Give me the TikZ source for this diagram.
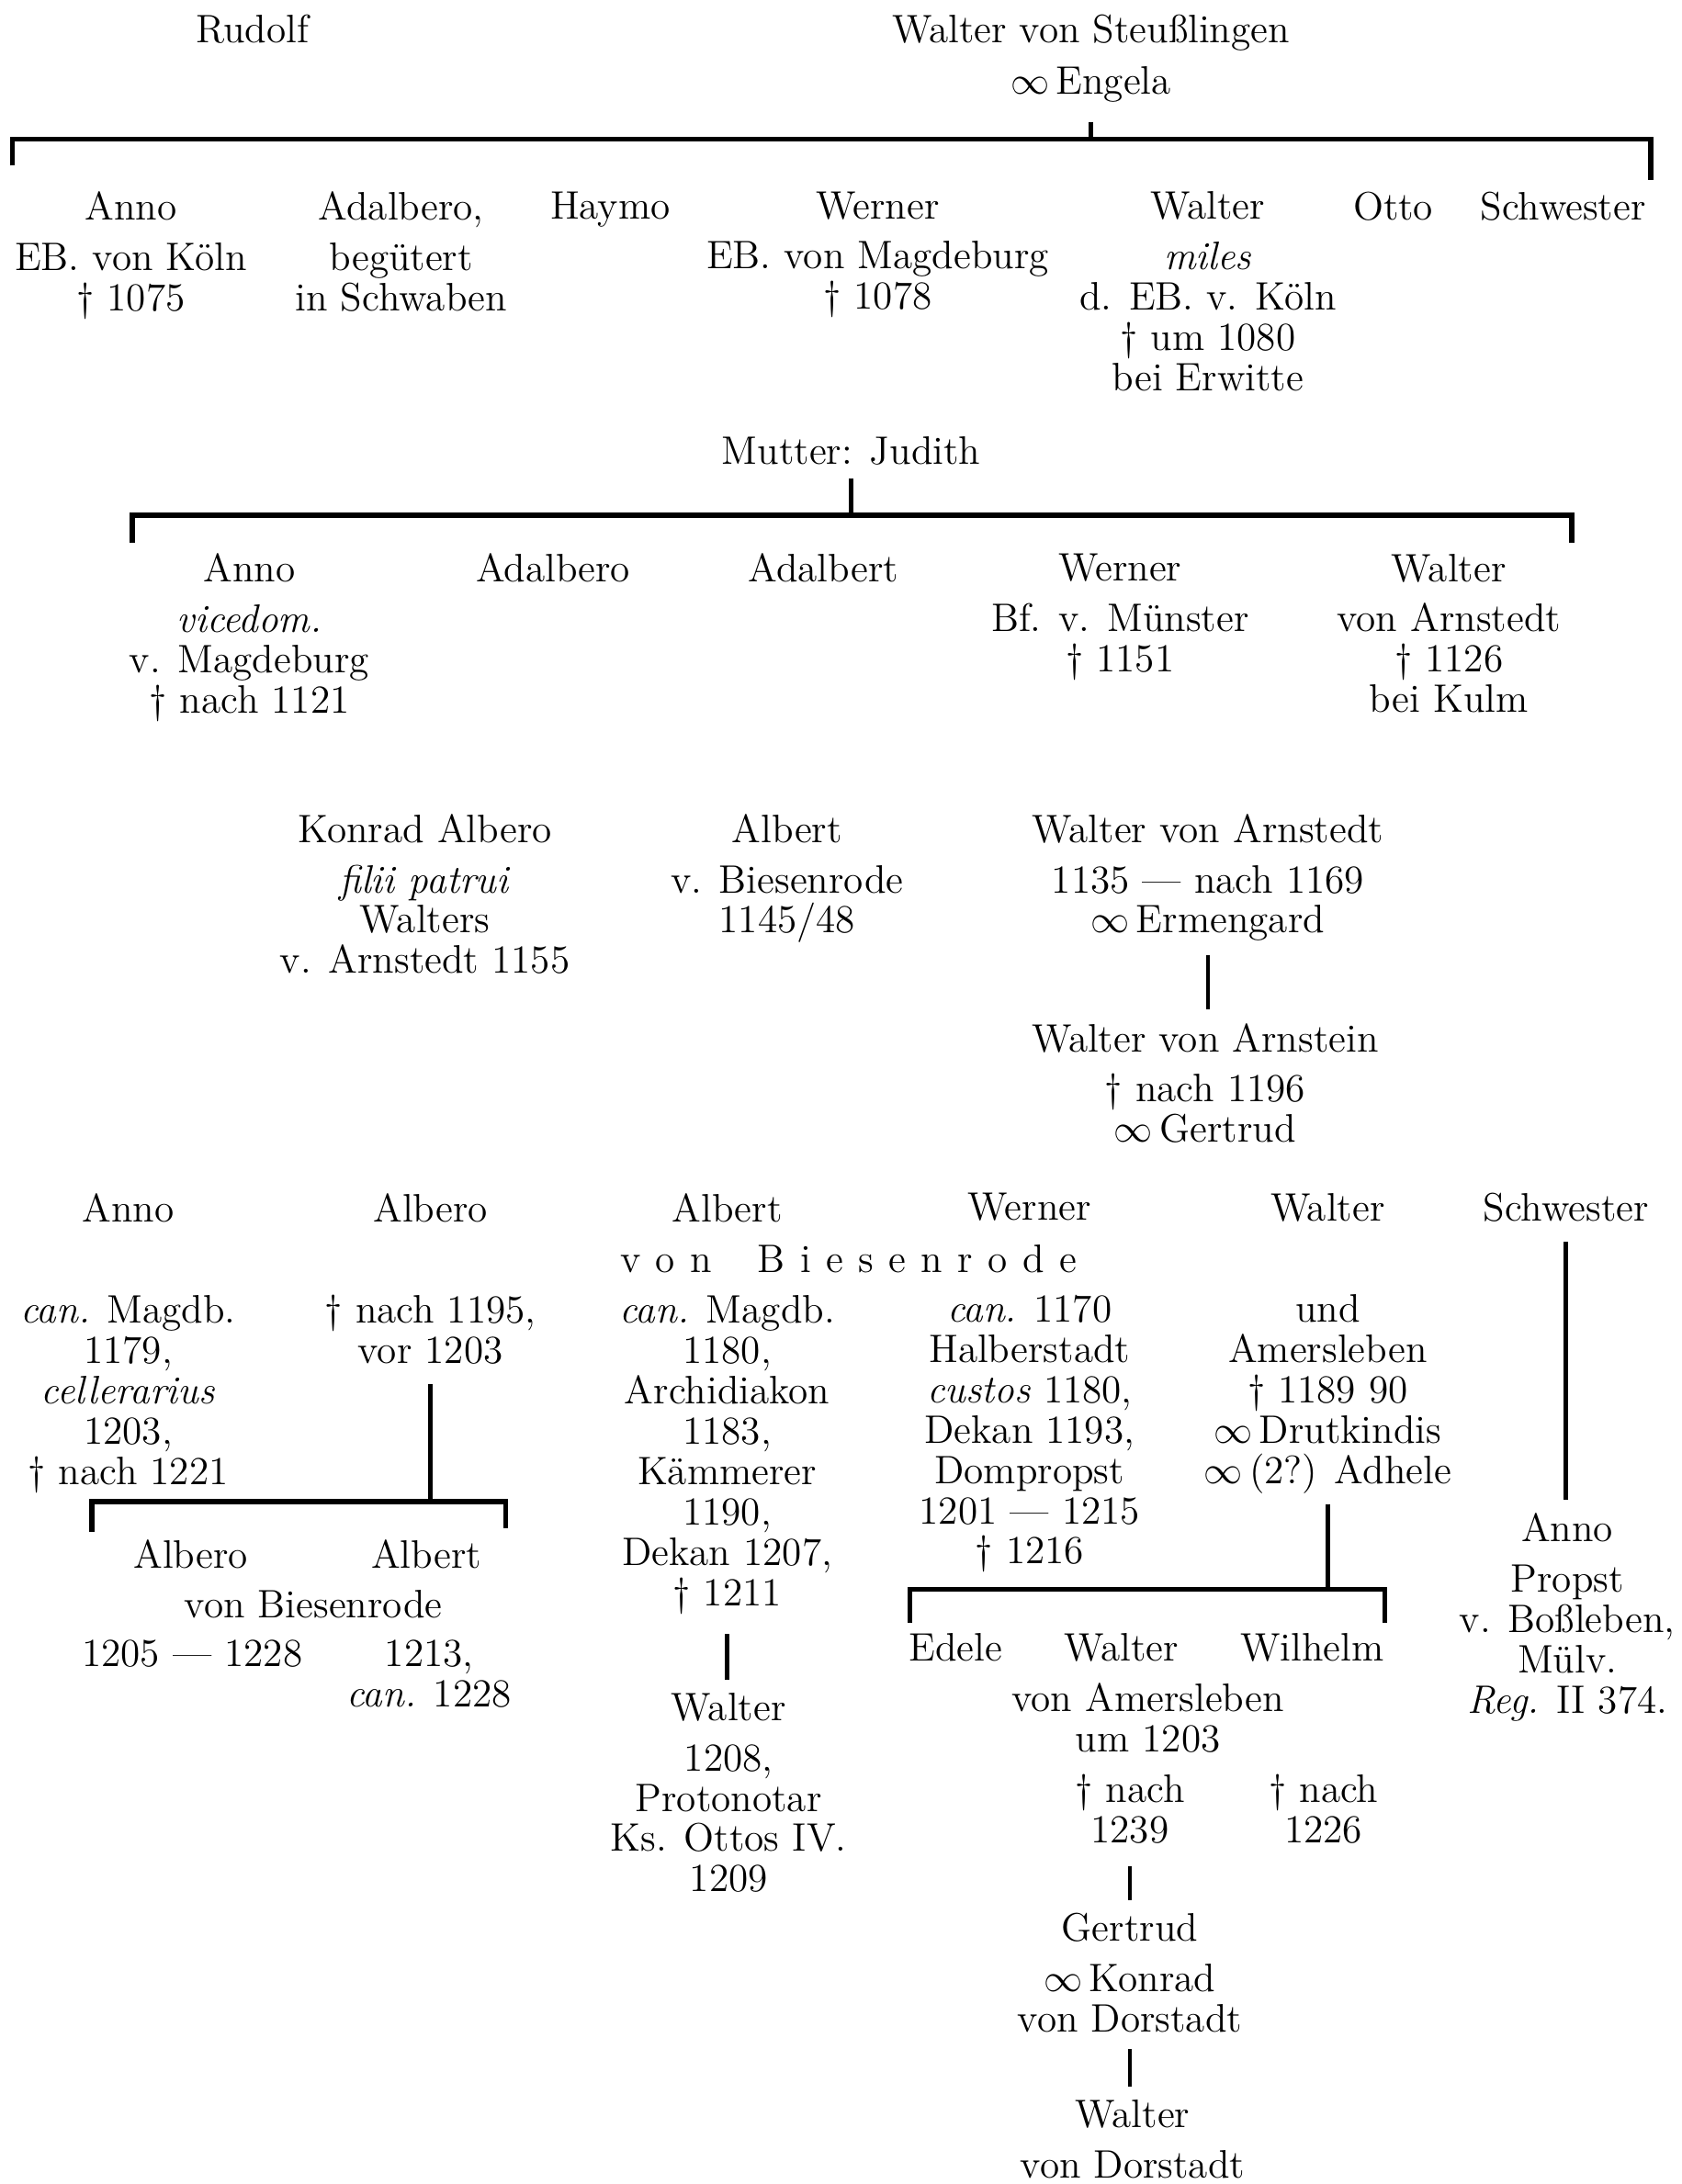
\documentclass[tikz,border=0pt]{standalone}
\usepackage{tikz}
\usetikzlibrary{positioning, calc}
\tikzset{
    person/.style={
        align=center, anchor=north, inner sep=0pt, yshift=8.54pt
    },
    stem/.style={
        line width=1.3pt, shorten <=4pt
    },
    bar/.style={
        line width=1.6pt
    }
}
\newcommand{\kreuz}{\textdagger\ }
\newcommand{\ehe}{$\infty$\,}
\newcommand{\ls}{\hspace{0.38em}}
\begin{document}
\begin{tikzpicture}[x=0.1517mm, y=-0.1517mm, font=\fontsize{12.3}{12.5}\selectfont]
\useasboundingbox (0,0) rectangle (1207,1568);

\node[person] (rudolf) at (181,30) {Rudolf};
\node[person] (steuss) at (783,30) {Walter von Steußlingen\\[3.5pt]\ehe Engela};

\coordinate (gen1l) at (9,100);
\coordinate (gen1r) at (1185,100);
\draw[bar] (gen1l) ++(0,19) -- (gen1l) -- (gen1r) -- ++(0,29);
\draw[stem, shorten <=6pt] (steuss.south) -- (steuss.south |- gen1l);

\node[person] (anno1) at (94,157) {Anno\\[3pt]EB. von Köln\\\kreuz 1075};
\node[person] (adalbero1) at (288,157) {Adalbero,\\[3pt]begütert\\in Schwaben};
\node[person] (haymo) at (438,157) {Haymo};
\node[person] (werner1) at (630,157) {Werner\\[3pt]EB. von Magdeburg\\\kreuz 1078};
\node[person] (walter1) at (867,157) {Walter\\[3pt]\textit{miles}\\d. EB. v. Köln\\\kreuz um 1080\\bei Erwitte};
\node[person] (otto) at (1000,157) {Otto};
\node[person] (schwester1) at (1122,157) {Schwester};

\node[person] (judith) at (611,333) {Mutter: Judith};
\coordinate (gen2l) at (95,370);
\coordinate (gen2r) at (1128,370);
\draw[bar] (gen2l) ++(0,20) -- (gen2l) -- (gen2r) -- ++(0,20);
\draw[stem] (judith.south) -- (judith.south |- gen2l);

\node[person] (anno2) at (179,417) {Anno\\[3pt]\textit{vicedom.}\\v. Magdeburg\\\kreuz nach 1121};
\node[person] (adalbero2) at (397,417) {Adalbero};
\node[person] (adalbert) at (591,417) {Adalbert};
\node[person] (werner2) at (804,417) {Werner\\[3pt]Bf. v. Münster\\\kreuz 1151};
\node[person] (walter2) at (1040,417) {Walter\\[3pt]von Arnstedt\\\kreuz 1126\\bei Kulm};

\node[person] (konrad) at (305,604) {Konrad Albero\\[3pt]\textit{filii patrui}\\Walters\\v. Arnstedt 1155};
\node[person] (albert3) at (565,604) {Albert\\[3pt]v. Biesenrode\\1145/48};
\node[person] (walter3) at (867,604) {Walter von Arnstedt\\[3pt]1135 --- nach 1169\\\ehe Ermengard};
\node[person] (arnstein) at (865,754) {Walter von Arnstein\\[3pt]\kreuz nach 1196\\\ehe Gertrud};
\draw[stem, shorten >=4pt] (walter3.south) -- (walter3.south |- arnstein.north);

\node[person] (anno4) at (92,876) {Anno\\[19pt]\textit{can.} Magdb.\\1179,\\\textit{cellerarius}\\1203,\\\kreuz nach 1221};
\node[person] (albero4) at (309,876) {Albero\\[19pt]\kreuz nach 1195,\\vor 1203};
\node[person] (albert4) at (522,876) {Albert\\[19pt]\textit{can.} Magdb.\\1180,\\Archidiakon\\1183,\\Kämmerer\\1190,\\Dekan 1207,\\\kreuz 1211};
\node[person] (sperr) at (609,913) {v\ls o\ls n\hspace{1.15em}B\ls i\ls e\ls s\ls e\ls n\ls r\ls o\ls d\ls e};
\node[person] (werner4) at (739,876) {Werner\\[19pt]\textit{can.} 1170\\Halberstadt\\\textit{custos} 1180,\\Dekan 1193,\\Dompropst\\1201 --- 1215\\\kreuz 1216};
\node[person] (walter4) at (953,876) {Walter\\[19pt]und\\Amersleben\\\kreuz 1189 90\\\ehe Drutkindis\\\ehe (2?) Adhele};
\node[person] (schwester4) at (1124,876) {Schwester};

\coordinate (albl) at (66,1078);
\coordinate (albr) at (363,1078);
\draw[bar] (albl) ++(0,22) -- (albl) -- (albr) -- ++(0,19);
\draw[stem, shorten <=6pt] (albero4.south) -- (albero4.south |- albl);

\node[person] (albero5) at (137,1125) {Albero};
\node[person] (albert5) at (306,1125) {Albert};
\node[person] (biesen5) at (225,1161) {von Biesenrode};
\node[person] (albero5d) at (138,1197) {1205 --- 1228};
\node[person] (albert5d) at (308,1197) {1213,\\\textit{can.} 1228};

\node[person] (walter6) at (523,1235) {Walter\\[3pt]1208,\\Protonotar\\Ks. Ottos IV.\\1209};
\draw[stem, shorten <=6pt, shorten >=4pt] (albert4.south) -- (albert4.south |- walter6.north);

\coordinate (wall) at (653,1141);
\coordinate (walr) at (994,1141);
\draw[bar] (wall) ++(0,24) -- (wall) -- (walr) -- ++(0,24);
\draw[stem, shorten <=3pt] (walter4.south) -- (walter4.south |- wall);

\node[person] (edele) at (686,1192) {Edele};
\node[person] (walter7) at (805,1192) {Walter};
\node[person] (wilhelm) at (942,1192) {Wilhelm};
\node[person] (amers) at (824,1228) {von Amersleben\\um 1203};
\node[person] (walter7d) at (811,1293) {\kreuz nach\\1239};
\node[person] (wilhelmd) at (950,1293) {\kreuz nach\\1226};

\node[person] (gertrud) at (811,1393) {Gertrud\\[3pt]\ehe Konrad\\von Dorstadt};
\draw[stem, shorten <=7pt, shorten >=4pt] (walter7d.south) -- (walter7d.south |- gertrud.north);
\node[person] (walter8) at (813,1527) {Walter\\[3pt]von Dorstadt};
\draw[stem, shorten <=5pt, shorten >=4pt] (gertrud.south) -- (gertrud.south |- walter8.north);

\node[person] (anno9) at (1125,1106) {Anno\\[3pt]Propst\\v. Boßleben,\\Mülv.\\\textit{Reg.} II 374.};
\draw[stem, shorten <=6pt, shorten >=4pt] (schwester4.south) -- (schwester4.south |- anno9.north);
\end{tikzpicture}
\end{document}
